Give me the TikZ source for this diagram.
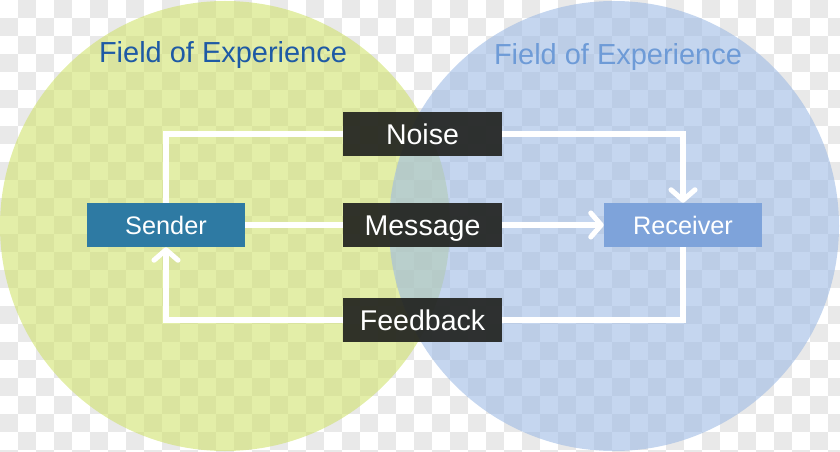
\documentclass[tikz,border=0pt]{standalone}
\usepackage{fontspec}
\setmainfont{Liberation Sans}
\usepackage{xcolor}
\usetikzlibrary{arrows.meta}

\definecolor{leftfield}{RGB}{208,226,110}
\definecolor{rightfield}{RGB}{158,187,228}
\definecolor{lefttitle}{RGB}{30,90,165}
\definecolor{righttitle}{RGB}{110,155,215}
\definecolor{senderblue}{RGB}{46,122,163}
\definecolor{receiverblue}{RGB}{126,163,218}
\definecolor{darkbox}{RGB}{30,31,28}
\definecolor{checkgray}{RGB}{233,233,233}

\tikzset{
  rolebox/.style={minimum width=3.95cm, minimum height=1.1cm, inner sep=0pt,
    text height=12.9pt, text depth=0pt,
    text=white, font=\fontsize{18}{20}\selectfont},
  channelbox/.style={minimum width=3.95cm, minimum height=1.1cm, inner sep=0pt,
    text height=14.5pt, text depth=0pt,
    fill=darkbox, fill opacity=0.9, text opacity=1, text=white,
    font=\fontsize{20.3}{22}\selectfont},
  flow/.style={white, line width=3.6pt},
  tip/.style={-{Straight Barb[length=2.6mm, width=6mm, round]}}
}

\begin{document}
\begin{tikzpicture}[x=0.025cm, y=-0.025cm]
            \useasboundingbox (0,0) rectangle (840,452);
            \begin{scope}
              \clip (0,0) rectangle (840,452);
              \foreach \i in {0,...,46} {
                \foreach \j in {0,...,25} {
                  \pgfmathtruncatemacro{\odd}{mod(\i+\j,2)}
                  \ifnum\odd=1
                    \fill[checkgray] (18*\i,18*\j) rectangle ++(18,18);
                  \fi
                }
              }
            \end{scope}

            \fill[leftfield, opacity=0.6] (225,226) circle (225);
            \fill[rightfield, opacity=0.6] (614,226) circle (225);

            \node (lefttitle) at (223,55) [text=lefttitle, font=\fontsize{20.6}{22}\selectfont] {Field of Experience};
            \node (righttitle) at (618,57) [text=righttitle, font=\fontsize{20.6}{22}\selectfont] {Field of Experience};

            \node (sender) at (166,225) [rolebox, fill=senderblue] {Sender};
            \node (receiver) at (683,225) [rolebox, fill=receiverblue] {Receiver};

            \node (noise) at (422.5,134) [channelbox] {Noise};
            \node (message) at (422.5,225) [channelbox] {Message};
            \node (feedback) at (422.5,320) [channelbox] {Feedback};

            \draw[flow] (sender.north) -- (sender.north |- noise.west) -- (noise.west);
            \draw[flow, tip] (noise.east) -- (noise.east -| receiver.north) -- (receiver.north);

            \draw[flow] (sender.east) -- (message.west);
            \draw[flow, tip] (message.east) -- (receiver.west);

            \draw[flow] (receiver.south) -- (receiver.south |- feedback.east) -- (feedback.east);
            \draw[flow, tip] (feedback.west) -- (feedback.west -| sender.south) -- (sender.south);
        \end{tikzpicture}
\end{document}
